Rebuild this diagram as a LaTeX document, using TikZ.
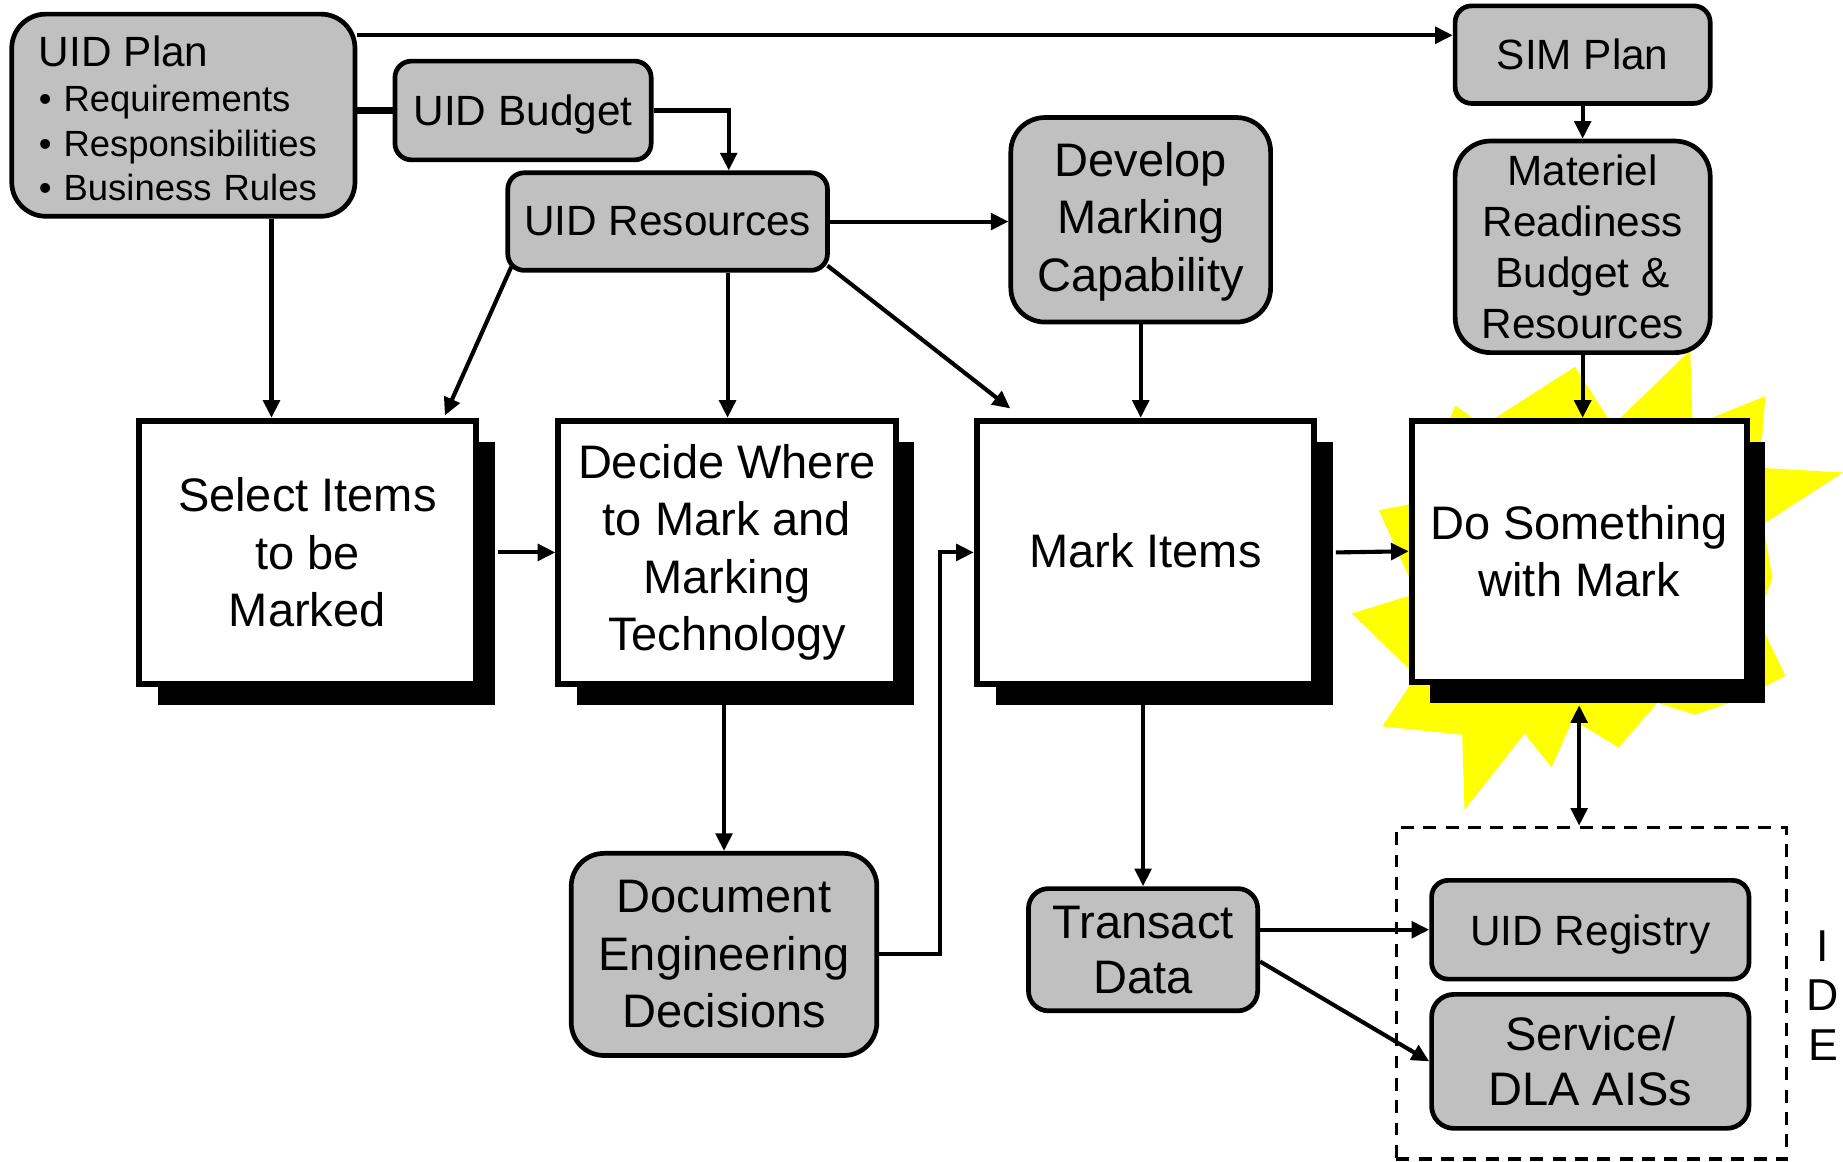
\documentclass[tikz,border=0pt]{standalone}
\usepackage{fontspec}
\setmainfont{Liberation Sans}
\usetikzlibrary{arrows.meta,shadows,calc}
\definecolor{boxgray}{HTML}{C0C0C0}
\definecolor{burst}{HTML}{FFFF00}
\begin{document}
\begin{tikzpicture}[x=1pt,y=-1pt,
  gbox/.style={draw, line width=4pt, fill=boxgray, align=center, inner sep=0pt},
  wbox/.style={draw, line width=5pt, fill=white, align=center, inner sep=0pt,
    minimum width=287pt, minimum height=224pt,
    general shadow={fill=black, shadow xshift=16pt, shadow yshift=-18pt}},
  arr/.style={line width=3.5pt, -{Triangle[length=15pt,width=14pt]}},
  big/.style={font=\fontsize{40}{49}\selectfont},
  mid/.style={font=\fontsize{36}{43.5}\selectfont}]
\useasboundingbox (0,0) rectangle (1568,988);

% starburst
\fill[burst] (1238,345) -- (1262,362) -- (1340,312) -- (1372,362) -- (1438,298)
  -- (1440,362) -- (1502,337) -- (1497,398) -- (1568,402) -- (1500,446)
  -- (1508,492) -- (1495,525) -- (1519,575) -- (1480,595) -- (1442,608)
  -- (1410,598) -- (1377,636) -- (1338,612) -- (1320,653) -- (1297,624)
  -- (1246,689) -- (1244,625) -- (1176,618) -- (1205,575) -- (1150,522)
  -- (1205,505) -- (1173,434) -- (1205,428) -- cycle;

% grey boxes
\node[gbox, rounded corners=29pt, minimum width=292pt, minimum height=172pt,
  text width=246pt, align=left, font=\fontsize{31}{38}\selectfont] (plan) at (156,98)
  {\rule{0pt}{32pt}{\fontsize{36}{38}\selectfont UID Plan}\\
   \textbullet\ Requirements\\
   \textbullet\ Responsibilities\\
   \textbullet\ Business Rules};
\node[gbox, mid, text depth=0pt, rounded corners=14pt, minimum width=218pt, minimum height=84pt] (budget) at (445,94) {UID Budget};
\node[gbox, mid, rounded corners=14pt, minimum width=272pt, minimum height=83pt] (res) at (568,188.5) {UID Resources};
\node[gbox, big, rounded corners=29pt, minimum width=221pt, minimum height=174pt] (dev) at (970.5,187) {\rule{0pt}{32pt}Develop\\Marking\\Capability};
\node[gbox, mid, rounded corners=14pt, minimum width=217pt, minimum height=83pt] (sim) at (1346.5,46.5) {SIM Plan};
\node[gbox, mid, rounded corners=30pt, minimum width=217pt, minimum height=180pt] (mat) at (1346.5,210) {Materiel\\Readiness\\Budget \&\\Resources};
\node[gbox, big, rounded corners=28pt, minimum width=260pt, minimum height=172pt] (doc) at (616,812) {Document\\Engineering\\Decisions};
\node[gbox, font=\fontsize{40}{47}\selectfont, rounded corners=17pt, minimum width=195pt, minimum height=104pt] (trans) at (972.5,808) {Transact\\Data};

% IDE dashed frame
\node[draw, line width=3pt, dash pattern=on 11pt off 8pt, minimum width=332pt, minimum height=282pt, inner sep=0pt] (ide) at (1354,845) {};
\node[font=\fontsize{38}{42}\selectfont, align=center, inner sep=0pt] (idel) at (1551,847) {I\\D\\E};
\node[gbox, mid, text depth=0pt, rounded corners=14pt, minimum width=270pt, minimum height=84pt] (reg) at (1353,791) {UID Registry};
\node[gbox, font=\fontsize{40}{47}\selectfont, rounded corners=19pt, minimum width=270pt, minimum height=114pt] (svc) at (1353,903) {Service/\\DLA AISs};

% white process boxes
\node[wbox, big] (sel) at (261.5,470) {Select Items\\to be\\Marked};
\node[wbox, big] (dec) at (618.5,470) {Decide Where\\to Mark and\\Marking\\Technology};
\node[wbox, big] (mark) at (974.5,470) {\raisebox{4pt}{Mark Items}};
\node[wbox, big, minimum width=285pt, minimum height=222pt] (dosm) at (1343.5,469) {Do Something\\with Mark};

% connectors
\draw[arr] (plan.east |- 0,30) -- (sim.west |- 0,30);
\draw[line width=6pt] (plan.east |- budget.west) -- (budget.west);
\draw[arr] (budget.east) -| ($(res.north)+(52,0)$);
\draw[arr] (plan.south -| 231,0) -- (sel.north -| 231,0);
\draw[arr] ($(res.south west)+(5,-5)$) -- ($(sel.north east)+(-29,-2)$);
\draw[arr] (res.south -| 619,0) -- (dec.north -| 619,0);
\draw[arr] (res.east) -- (dev.west |- res.east);
\draw[arr] ($(res.south east)+(-2,-6)$) -- ($(mark.north west)+(31,-8)$);
\draw[arr] (dev.south) -- (dev.south |- mark.north);
\draw[arr] ($(sel.east)+(16,0)$) -- (dec.west);
\draw[arr] (doc.east) -- ++(52,0) |- (mark.west);
\draw[arr] (doc.north |- 0,600) -- (doc.north);
\draw[arr] (trans.north |- 0,600) -- (trans.north);
\draw[arr] ($(mark.east)+(16,0)$) -- (dosm.west);
\draw[arr] (sim.south) -- (mat.north);
\draw[arr] (mat.south) -- (mat.south |- dosm.north);
\draw[line width=3.5pt, {Triangle[length=15pt,width=14pt]}-{Triangle[length=15pt,width=14pt]}]
  (dosm.south |- 0,600) -- (dosm.south |- ide.north);
\draw[arr] (trans.east |- reg.west) -- (reg.west);
\draw[arr] ($(trans.east)+(0,10)$) -- (svc.west);
\end{tikzpicture}
\end{document}
